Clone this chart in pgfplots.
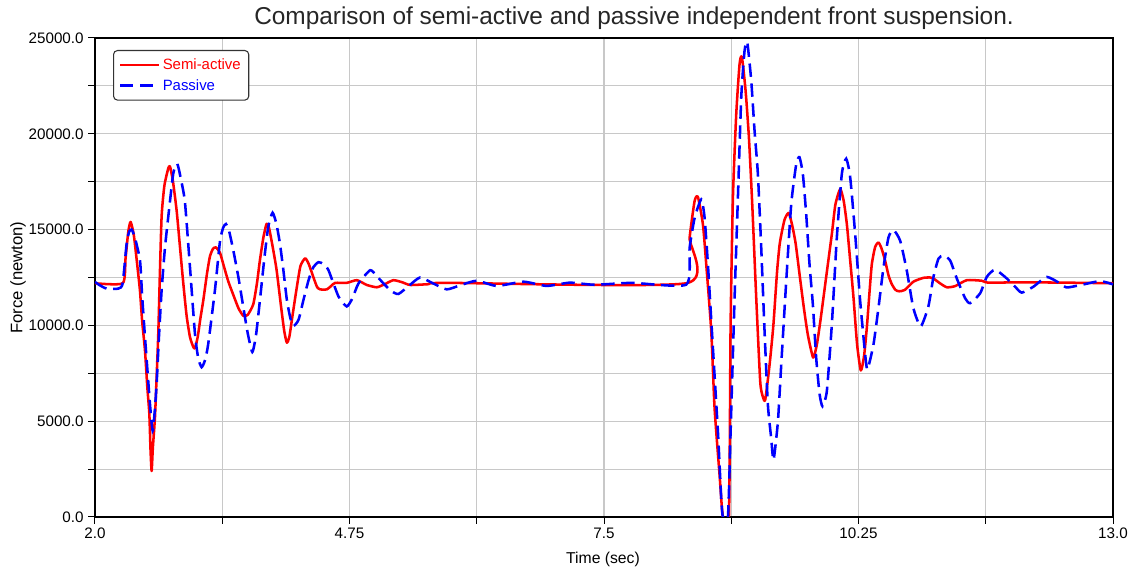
\documentclass[border=0pt]{standalone}
\usepackage{pgfplots}
\pgfplotsset{compat=1.18}
\usepackage{fontspec}
\setmainfont{Liberation Sans}
\definecolor{gridgray}{RGB}{200,200,200}
\begin{document}
\begin{tikzpicture}
\useasboundingbox (-71.25pt,-39.75pt) rectangle (775.5pt,387.75pt);
\begin{axis}[
  at={(0,0)}, anchor=south west,
  scale only axis,
  width=763.5pt, height=359.25pt,
  xmin=2, xmax=13, ymin=0, ymax=25000,
  clip=true,
  xtick={2,4.75,7.5,10.25,13},
  xticklabels={2.0,4.75,7.5,10.25,13.0},
  minor xtick={3.375,6.125,8.875,11.625},
  ytick={0,5000,10000,15000,20000,25000},
  yticklabels={0.0,5000.0,10000.0,15000.0,20000.0,25000.0},
  minor ytick={2500,7500,12500,17500,22500},
  scaled y ticks=false,
  tick align=outside,
  xtick pos=bottom, ytick pos=left,
  major tick length=5pt, minor tick length=5pt,
  tick style={black, line width=0.75pt},
  grid=both,
  major grid style={gridgray, line width=0.8pt},
  minor grid style={gridgray, line width=0.8pt},
  axis line style={black, line width=1pt},
  axis on top=false,
  tick label style={font=\fontsize{11.4}{13}\selectfont},
  title={Comparison of semi-active and passive independent front suspension.},
  title style={at={(axis description cs:0.5295,1.012)}, anchor=base, font=\fontsize{18.3}{21}\selectfont, color=black!85},
  xlabel={Time (sec)},
  xlabel style={at={(axis description cs:0.499,-0.0877)}, anchor=center, font=\fontsize{11.8}{13}\selectfont},
  ylabel={Force (newton)},
  ylabel style={at={(axis description cs:-0.0756,0.5)}, anchor=center, font=\fontsize{12.5}{14}\selectfont},
  legend style={at={(axis description cs:0.0177,0.975)}, anchor=north west,
    draw=black!80, rounded corners=3pt, line width=0.8pt, fill=white,
    font=\fontsize{11.2}{13}\selectfont, inner xsep=4pt, inner ysep=4pt,
    row sep=2pt},
  legend cell align=left,
  legend image code/.code={\draw[#1] (0pt,0pt) -- (29pt,0pt);},
]
\addplot[red, line width=1.9pt, line join=round, smooth, tension=0.35] coordinates {
(2.0,12200)(2.30,12200)(2.33,13500)(2.36,14900)(2.385,15400)(2.42,14700)(2.46,13000)
(2.486,11800)(2.51,10200)(2.54,8700)(2.565,6800)(2.587,5400)(2.60,3500)(2.612,2400)
(2.625,3600)(2.648,5200)(2.665,7200)(2.684,9600)(2.70,12500)(2.72,15700)(2.75,17300)
(2.792,18200)(2.81,18300)(2.84,17600)(2.882,16000)(2.92,14000)(2.954,12200)(2.99,10500)
(3.026,9400)(3.06,8900)(3.08,8800)(3.11,9400)(3.14,10400)(3.17,11300)(3.21,12700)
(3.242,13600)(3.275,14000)(3.307,14070)(3.35,13800)(3.386,13200)(3.44,12300)(3.494,11600)
(3.55,10900)(3.602,10500)(3.65,10550)(3.71,11100)(3.75,12200)(3.782,13400)(3.82,14600)
(3.854,15300)(3.88,15100)(3.92,14100)(3.962,12900)(4.01,11000)(4.045,9700)(4.073,9100)
(4.10,9400)(4.14,10700)(4.181,12000)(4.22,13100)(4.271,13500)(4.31,13200)(4.361,12500)
(4.40,12000)(4.433,11880)(4.505,11880)(4.55,12050)(4.595,12220)(4.72,12220)(4.83,12360)
(4.937,12110)(5.045,11990)(5.13,12150)(5.225,12360)(5.32,12250)(5.405,12110)(5.60,12150)
(5.80,12220)(8.389,12200)
(8.425,14570)(8.479,16490)(8.515,16700)(8.569,15270)(8.605,13175)(8.659,9685)(8.695,5670)
(8.749,2180)(8.785,0)(8.85,0)(8.868,10030)(8.893,16665)(8.929,21030)(8.965,23645)(8.99,24000)
(9.03,22250)(9.066,19800)(9.102,16300)(9.145,11430)(9.188,7070)(9.215,6300)(9.242,6110)
(9.289,7940)(9.33,10000)(9.37,12800)(9.40,14300)(9.45,15500)(9.495,15870)(9.53,15300)
(9.57,14300)(9.62,12400)(9.66,10900)(9.703,9500)(9.76,8320)(9.80,9000)(9.84,10300)
(9.90,12500)(9.962,14770)(10.00,16300)(10.052,17120)(10.09,16500)(10.124,15290)(10.16,13400)
(10.196,11450)(10.235,9000)(10.275,7650)(10.31,8400)(10.34,9880)(10.37,11800)(10.394,13200)
(10.43,14100)(10.466,14330)(10.50,14000)(10.538,13370)(10.575,12600)(10.61,12150)(10.65,11850)
(10.69,11780)(10.75,11850)(10.843,12280)(10.95,12480)(11.024,12500)(11.06,12450)(11.13,12200)
(11.204,11990)(11.294,12050)(11.42,12360)(11.582,12330)(11.654,12230)(12.0,12250)(12.5,12230)
(13.0,12200)
};
\addlegendentry{\textcolor{red}{Semi-active}}
\addplot[blue, line width=1.9pt, dash pattern=on 10pt off 5pt, smooth, tension=0.35] coordinates {
(2.0,12270)(2.05,12100)(2.126,11920)(2.252,11920)(2.299,12190)(2.342,14280)(2.37,14900)
(2.396,15000)(2.43,14600)(2.486,13400)(2.51,11500)(2.54,9400)(2.594,5900)(2.623,4500)
(2.645,5500)(2.666,6950)(2.69,9300)(2.72,11840)(2.755,14000)(2.792,15680)(2.846,17940)
(2.889,18430)(2.93,17600)(2.972,16430)(3.026,13060)(3.08,9570)(3.115,8300)(3.152,7820)
(3.19,8200)(3.224,9050)(3.296,11840)(3.35,14370)(3.385,15100)(3.415,15290)(3.45,14900)
(3.494,13930)(3.55,12500)(3.602,10970)(3.65,9600)(3.70,8610)(3.74,9500)(3.782,11310)
(3.83,13500)(3.872,15150)(3.919,15880)(3.96,15300)(3.998,14280)(4.035,12900)(4.073,11340)
(4.11,10400)(4.145,9970)(4.20,10300)(4.253,11340)(4.31,12400)(4.361,13050)(4.415,13300)
(4.47,13200)(4.523,12880)(4.631,11510)(4.72,10990)(4.78,11400)(4.847,12190)(4.973,12880)
(5.04,12600)(5.117,12190)(5.20,11800)(5.279,11640)(5.40,12100)(5.513,12500)(5.65,12200)
(5.801,11880)(5.95,12100)(6.125,12330)(6.341,12060)(6.63,12280)(6.88,12060)(7.13,12230)
(7.40,12120)(7.80,12220)(8.389,12130)
(8.425,14050)(8.479,15600)(8.551,16580)(8.587,15620)(8.623,13175)(8.677,8810)(8.731,4450)
(8.767,960)(8.785,0)(8.839,0)(8.868,4450)(8.911,11430)(8.947,16665)(8.983,21900)(9.019,24340)
(9.048,24780)(9.091,22770)(9.127,20150)(9.163,17890)(9.199,14050)(9.235,9685)(9.271,5850)
(9.307,4100)(9.332,2970)(9.379,4970)(9.415,7940)(9.469,12300)(9.523,16320)(9.577,18410)
(9.612,18780)(9.649,17890)(9.685,15790)(9.721,13175)(9.757,11080)(9.793,8290)(9.83,6400)
(9.861,5780)(9.908,6570)(9.962,10060)(10.016,14590)(10.07,17910)(10.117,18700)(10.16,17740)
(10.214,14770)(10.268,11280)(10.322,8490)(10.347,7700)(10.412,9010)(10.466,10930)(10.52,13020)
(10.574,14590)(10.628,14980)(10.70,14420)(10.771,12880)(10.843,10900)(10.922,9950)(11.005,10990)
(11.06,12530)(11.114,13480)(11.168,13650)(11.24,13390)(11.312,12450)(11.402,11420)(11.456,11160)
(11.564,11670)(11.636,12530)(11.726,12910)(11.852,12450)(11.942,12020)(12.014,11710)(12.14,12020)
(12.284,12530)(12.428,12190)(12.5,11980)(12.644,12100)(12.86,12310)(13.0,12140)
};
\addlegendentry{\textcolor{blue}{Passive}}
\end{axis}
\end{tikzpicture}
\end{document}
